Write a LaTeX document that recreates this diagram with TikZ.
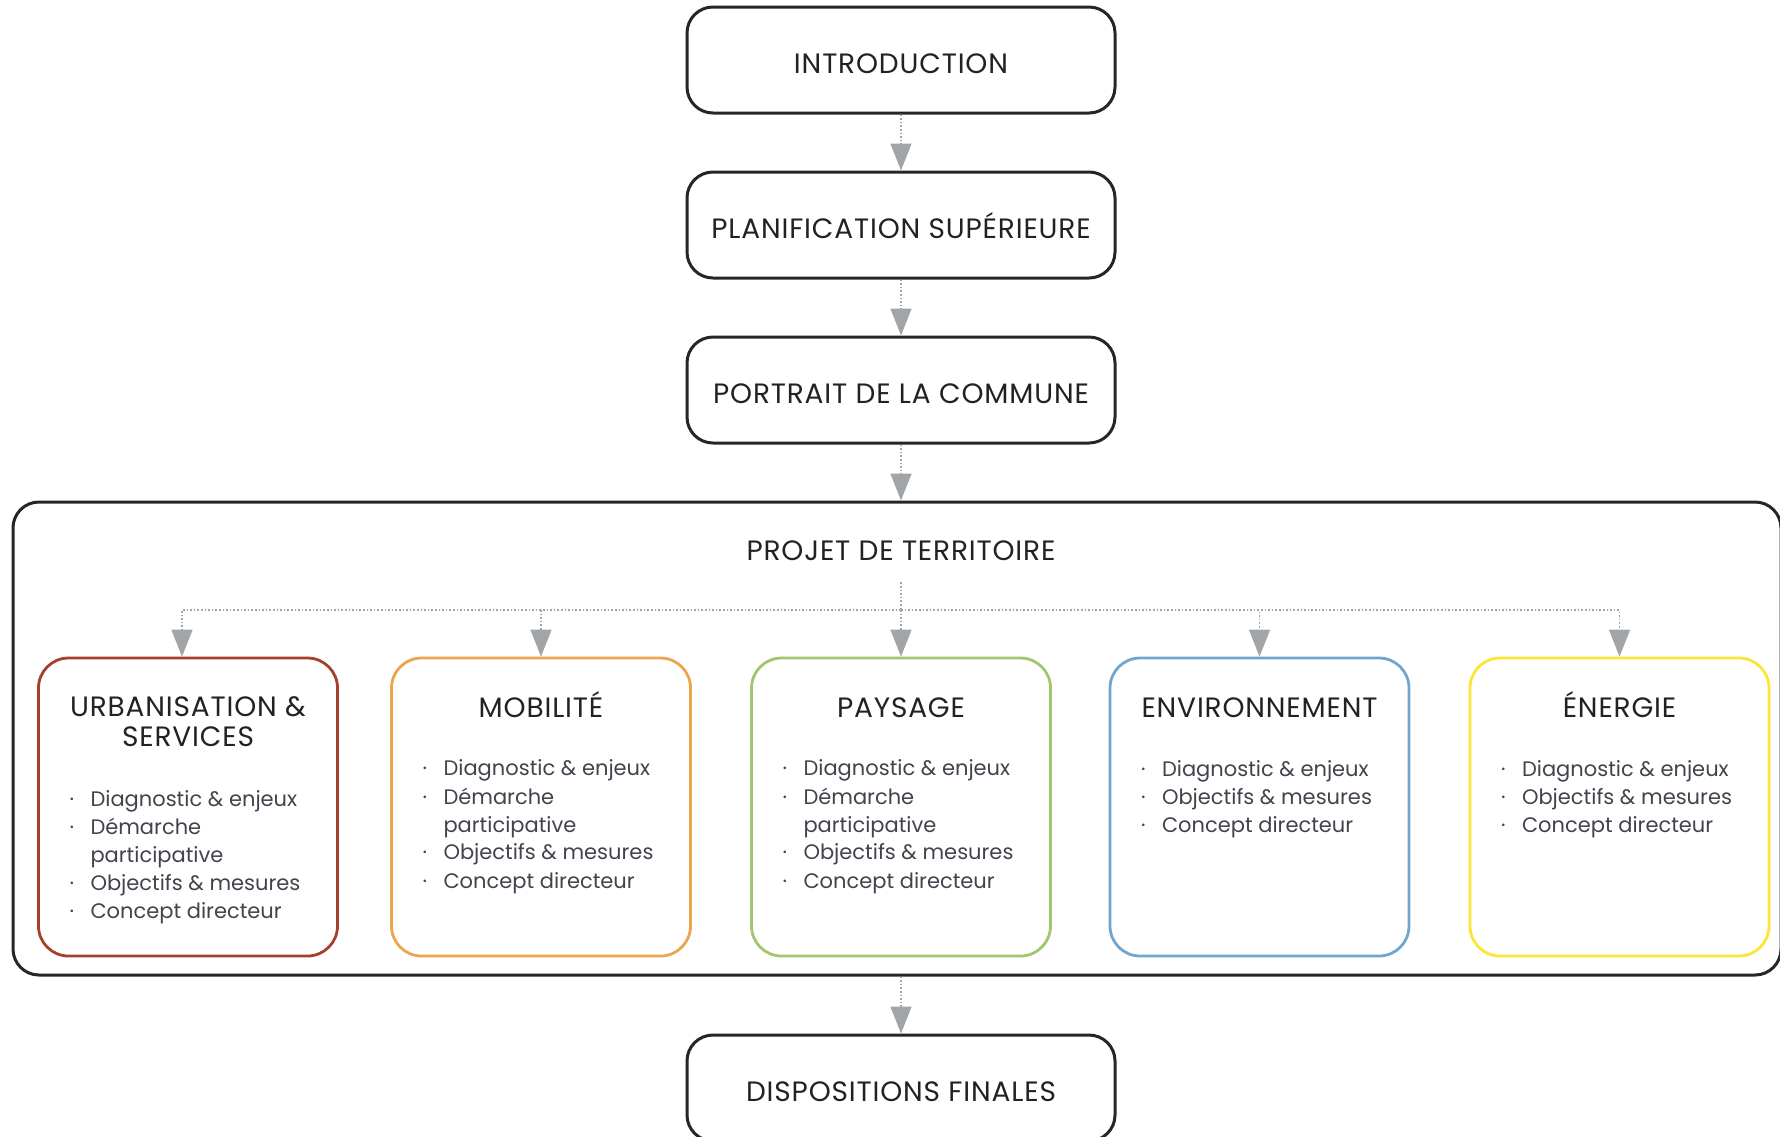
\documentclass[tikz,border=0pt]{standalone}
\usepackage{fontspec}
\setmainfont{Poppins}
\newfontfamily\titrefont[LetterSpace=3]{Poppins}
\usetikzlibrary{arrows.meta,positioning}
\definecolor{titrecol}{HTML}{222222}
\definecolor{textecol}{HTML}{45424D}
\definecolor{gris}{HTML}{A2A5A7}
\definecolor{rouge}{HTML}{A4412C}
\definecolor{orange}{HTML}{EDA54D}
\definecolor{vert}{HTML}{A0C670}
\definecolor{bleu}{HTML}{6FA6CF}
\definecolor{jaune}{HTML}{FCE535}
\newcommand{\puce}{\makebox[10.5pt][l]{·}} % пункт списка
\newcommand{\suite}{\makebox[10.5pt]{}} % продолжение пункта
\begin{document}
\begin{tikzpicture}[x=0.5pt,y=-0.5pt] % координаты в пикселях
\tikzstyle{bloc} = [draw=black!85, line width=1.5pt, rounded corners=13pt, minimum width=214pt, minimum height=53pt, text=titrecol, font=\titrefont\fontsize{14}{15}\selectfont, text height=13pt, text depth=0pt] % основные блоки
\tikzstyle{cadre} = [draw=black!85, line width=1.5pt, rounded corners=13pt, minimum width=884pt, minimum height=236.5pt] % общая рамка
\tikzstyle{axe} = [line width=1.4pt, rounded corners=15pt, minimum width=149.5pt, minimum height=149pt] % тематические блоки
\tikzstyle{soustitre} = [text=titrecol, font=\titrefont\fontsize{14}{15}\selectfont, align=center, inner sep=0pt, execute at begin node={\vphantom{É}}]
\tikzstyle{liste} = [text=textecol, font=\fontsize{10.5}{14}\selectfont, align=left, inner sep=0pt]
\tikzstyle{fleche} = [draw=gris, densely dotted, line width=0.8pt, -{Triangle[width=10.5pt,length=13.5pt]}] % стрелки
\useasboundingbox (0,0) rectangle (1780,1136);

\node[bloc] (intro) at (901,60) {INTRODUCTION};
\node[bloc, below=28pt of intro] (plan) {PLANIFICATION SUPÉRIEURE};
\node[bloc, below=28pt of plan] (portrait) {PORTRAIT DE LA COMMUNE};
\node[cadre] (territoire) at (897,738.5) {};
\node[text=titrecol, font=\titrefont\fontsize{14}{15}\selectfont, inner xsep=0pt, inner ysep=10.5pt] (projet) at (901,551) {PROJET DE TERRITOIRE};
\coordinate (centre) at (901,610); % точка разветвления
\node[bloc] (dispo) at (901,1088) {DISPOSITIONS FINALES};

% тематические блоки
\node[axe, draw=rouge] (urb) at (188,807) {};
\node[axe, draw=orange] (mob) at (541,807) {};
\node[axe, draw=vert] (pay) at (901,807) {};
\node[axe, draw=bleu] (env) at (1259.5,807) {};
\node[axe, draw=jaune] (ene) at (1619.5,807) {};

\node[soustitre, below=20pt of urb.north] (urbt) {URBANISATION \&\\SERVICES};
\node[soustitre, below=17.1pt of mob.north] (mobt) {MOBILITÉ};
\node[soustitre, below=17.1pt of pay.north] (payt) {PAYSAGE};
\node[soustitre, below=17.1pt of env.north] (envt) {ENVIRONNEMENT};
\node[soustitre, below=17.1pt of ene.north] (enet) {ÉNERGIE};

\node[liste, below right=66.5pt and 16pt of urb.north west] (urbl) {\puce Diagnostic \& enjeux\\\puce Démarche\\\suite participative\\\puce Objectifs \& mesures\\\puce Concept directeur};
\node[liste, below right=51.5pt and 16pt of mob.north west] (mobl) {\puce Diagnostic \& enjeux\\\puce Démarche\\\suite participative\\\puce Objectifs \& mesures\\\puce Concept directeur};
\node[liste, below right=51.5pt and 16pt of pay.north west] (payl) {\puce Diagnostic \& enjeux\\\puce Démarche\\\suite participative\\\puce Objectifs \& mesures\\\puce Concept directeur};
\node[liste, below right=51.5pt and 16pt of env.north west] (envl) {\puce Diagnostic \& enjeux\\\puce Objectifs \& mesures\\\puce Concept directeur};
\node[liste, below right=51.5pt and 16pt of ene.north west] (enel) {\puce Diagnostic \& enjeux\\\puce Objectifs \& mesures\\\puce Concept directeur};

% стрелки
\draw[fleche] (intro) -- (plan);
\draw[fleche] (plan) -- (portrait);
\draw[fleche] (portrait.south) -- (portrait.south |- territoire.north);
\draw[draw=gris, densely dotted, line width=0.8pt] (projet.south) -- (centre);
\draw[fleche] (centre) -| ([xshift=-3pt]urb.north);
\draw[fleche] (centre) -| (mob.north);
\draw[fleche] (centre) -- (pay.north);
\draw[fleche] (centre) -| (env.north);
\draw[fleche] (centre) -| (ene.north);
\draw[fleche] (territoire.south -| dispo.north) -- (dispo.north);
\end{tikzpicture}
\end{document}
